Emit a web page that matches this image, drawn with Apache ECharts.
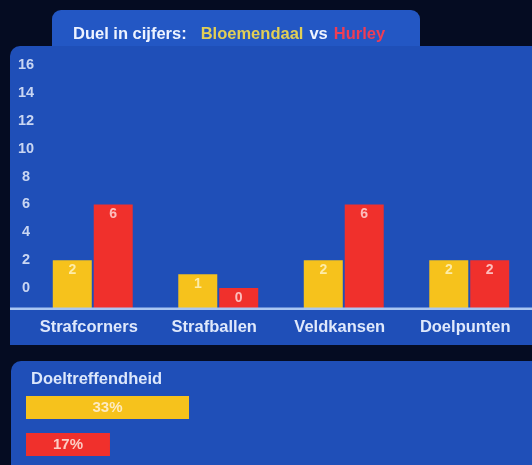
<!DOCTYPE html>
<html>
<head>
<meta charset="utf-8">
<script src="https://cdn.jsdelivr.net/npm/echarts@6/dist/echarts.min.js"></script>
<style>
html,body{margin:0;padding:0;background:#06102a;}
#c{width:532px;height:465px;}
</style>
</head>
<body>
<div id="c"></div>
<script>
// ---- data ----
var teams = ['Bloemendaal', 'Hurley'];
var categories = ['Strafcorners', 'Strafballen', 'Veldkansen', 'Doelpunten'];
var bloemendaalValues = [2, 1, 2, 2];
var opponentValues = [6, 0, 6, 2];
var yTicks = [0, 2, 4, 6, 8, 10, 12, 14, 16];
var efficiencyLabel = 'Doeltreffendheid';
var efficiencyValues = [33, 17];

// ---- style ----
var YELLOW = '#f6c21c';
var RED = '#f0302c';
var PANEL = '#1f4fb8';
var TAB = '#2357c4';
var FONT = '"Liberation Sans", Arial, sans-serif';
var yMin = -1.5;
var teamColors = [YELLOW, RED];

var chart = echarts.init(document.getElementById('c'), null, {renderer: 'canvas'});

var baseData = categories.map(function () { return yMin; });

function barSeries(name, stack, data, color, labelColor, isBase) {
  return {
    type: 'bar',
    name: name,
    stack: stack,
    xAxisIndex: 0,
    yAxisIndex: 0,
    data: data,
    barWidth: 39,
    barGap: '5%',
    itemStyle: {color: color},
    z: 3,
    label: isBase ? {show: false} : {
      show: true,
      position: ['50%', 3],
      align: 'center',
      verticalAlign: 'top',
      color: labelColor,
      fontFamily: FONT,
      fontWeight: 'bold',
      fontSize: 14
    }
  };
}

var option = {
  backgroundColor: '#050c22',
  animation: false,
  title: {
    left: 68,
    top: 21,
    text: '{w|Duel in cijfers:}{y|' + teams[0] + '}{v|vs}{r|' + teams[1] + '}',
    textStyle: {
      rich: {
        w: {color: '#eef3ff', fontFamily: FONT, fontWeight: 'bold', fontSize: 16.5},
        y: {color: '#e2cf55', fontFamily: FONT, fontWeight: 'bold', fontSize: 16.5, padding: [0, 0, 0, 14]},
        v: {color: '#eef3ff', fontFamily: FONT, fontWeight: 'bold', fontSize: 16.5, padding: [0, 6, 0, 6]},
        r: {color: '#ef3d55', fontFamily: FONT, fontWeight: 'bold', fontSize: 16.5}
      }
    }
  },
  graphic: [
    {type: 'rect', z: -10, shape: {x: 52, y: 10, width: 368, height: 45, r: [9, 9, 0, 0]}, style: {fill: TAB}},
    {type: 'rect', z: -10, shape: {x: 10, y: 46, width: 540, height: 299, r: [10, 0, 0, 0]}, style: {fill: PANEL}},
    {type: 'rect', z: -10, shape: {x: 11, y: 361, width: 540, height: 120, r: [10, 0, 0, 0]}, style: {fill: PANEL}},
    {type: 'rect', z: 20, shape: {x: 10, y: 307.5, width: 522, height: 2.5}, style: {fill: '#a9c6f2'}},
    {type: 'text', z: 20, left: 31, top: 371, style: {text: efficiencyLabel, fill: '#dce7fb', font: 'bold 16.5px ' + FONT}}
  ],
  grid: [
    {left: 30, right: 0, top: 65, bottom: 156},
    {left: 26, right: 12, top: 389, bottom: 2}
  ],
  xAxis: [
    {
      type: 'category',
      gridIndex: 0,
      data: categories,
      axisLine: {show: false},
      axisTick: {show: false},
      axisLabel: {
        interval: 0,
        hideOverlap: false,
        margin: 10,
        padding: [0, 8, 0, 0],
        color: '#dfe8fb',
        fontFamily: FONT,
        fontWeight: 'bold',
        fontSize: 16.5
      },
      splitLine: {show: false}
    },
    {
      type: 'value',
      gridIndex: 1,
      min: 0,
      max: 100,
      show: false
    }
  ],
  yAxis: [
    {
      type: 'value',
      gridIndex: 0,
      min: yMin,
      max: 16,
      axisLine: {show: false},
      axisTick: {show: false},
      splitLine: {show: false},
      axisLabel: {
        customValues: yTicks,
        align: 'center',
        margin: 4,
        color: '#c9d6f2',
        fontFamily: FONT,
        fontWeight: 'bold',
        fontSize: 14.5
      }
    },
    {
      type: 'category',
      gridIndex: 1,
      data: teams,
      inverse: true,
      show: false
    }
  ],
  series: [
    barSeries(teams[0], 'a', bloemendaalValues, YELLOW, 'rgba(255,250,215,0.75)', false),
    barSeries(teams[0] + ' basis', 'a', baseData, YELLOW, null, true),
    barSeries(teams[1], 'b', opponentValues, RED, 'rgba(255,225,225,0.8)', false),
    barSeries(teams[1] + ' basis', 'b', baseData, RED, null, true),
    {
      type: 'bar',
      xAxisIndex: 1,
      yAxisIndex: 1,
      barWidth: 23,
      data: efficiencyValues.map(function (v, i) {
        return {value: v, itemStyle: {color: teamColors[i]}};
      }),
      label: {
        show: true,
        position: 'inside',
        formatter: '{c}%',
        color: 'rgba(255,245,235,0.8)',
        fontFamily: FONT,
        fontWeight: 'bold',
        fontSize: 15
      }
    }
  ]
};

chart.setOption(option);
</script>
</body>
</html>
